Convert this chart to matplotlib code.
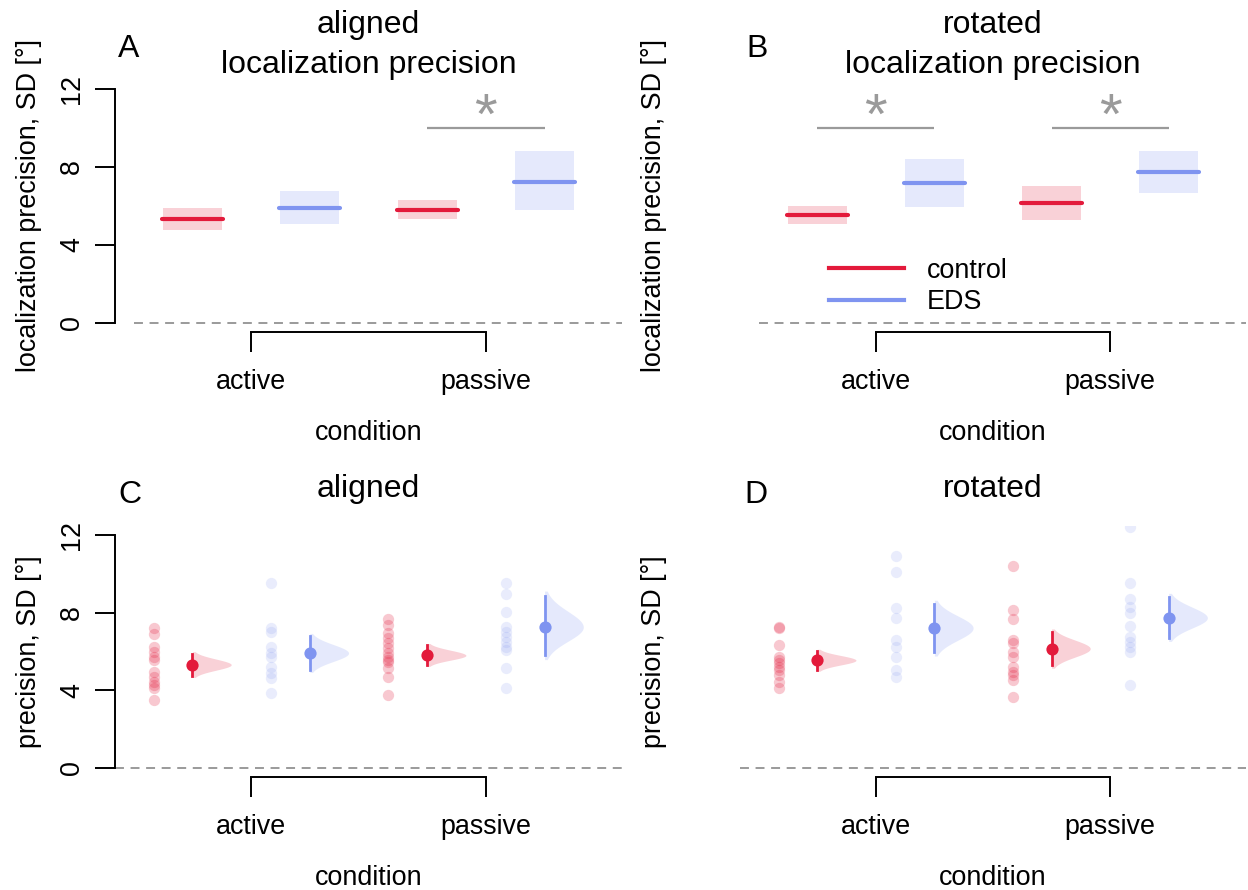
import numpy as np
import matplotlib
matplotlib.use("Agg")
import matplotlib.pyplot as plt

plt.rcParams['font.family'] = ['Liberation Sans', 'DejaVu Sans']

# ---------------------------------------------------------------- data
conditions = ['active', 'passive']
groups = ['control', 'EDS']
# cells in plotting order: active/control, active/EDS, passive/control, passive/EDS
cell_x = [1, 2, 3, 4]
cell_group = ['control', 'EDS', 'control', 'EDS']

aligned_mean = [5.31, 5.91, 5.79, 7.25]
aligned_ci_lo = [4.75, 5.06, 5.31, 5.82]
aligned_ci_hi = [5.88, 6.77, 6.31, 8.83]

rotated_mean = [5.54, 7.20, 6.14, 7.73]
rotated_ci_lo = [5.06, 5.97, 5.28, 6.69]
rotated_ci_hi = [6.02, 8.42, 7.00, 8.80]

aligned_active_control = [7.19, 6.88, 6.24, 5.98, 5.72, 5.55, 4.95, 4.69, 4.43, 4.26, 4.09, 3.49]
aligned_active_eds = [9.54, 7.19, 7.01, 6.24, 5.90, 5.72, 5.21, 4.87, 4.61, 3.84]
aligned_passive_control = [7.65, 7.36, 6.93, 6.67, 6.41, 6.15, 5.90, 5.72, 5.55, 5.46, 5.12, 4.69, 3.75]
aligned_passive_eds = [9.50, 8.94, 8.04, 7.27, 7.01, 6.75, 6.49, 6.24, 6.07, 5.12, 4.09]

rotated_active_control = [7.27, 7.19, 6.32, 5.72, 5.55, 5.38, 5.21, 5.04, 4.78, 4.43, 4.09]
rotated_active_eds = [10.91, 10.10, 8.22, 7.70, 6.58, 6.24, 5.72, 5.04, 4.69]
rotated_passive_control = [10.40, 8.13, 7.65, 6.58, 6.41, 5.98, 5.72, 5.21, 4.95, 4.78, 4.52, 3.66]
rotated_passive_eds = [12.42, 9.54, 8.68, 8.30, 7.96, 7.30, 6.75, 6.49, 6.24, 5.98, 4.26]

aligned_raw = [aligned_active_control, aligned_active_eds,
               aligned_passive_control, aligned_passive_eds]
rotated_raw = [rotated_active_control, rotated_active_eds,
               rotated_passive_control, rotated_passive_eds]

# significant control-vs-EDS comparisons: (left cell, right cell)
aligned_sig = [(3, 4)]
rotated_sig = [(1, 2), (3, 4)]

y_ticks = [0, 4, 8, 12]

# ---------------------------------------------------------------- style
W, H = 1248, 890
BASE = 19.4
TITLE = 23
COLORS = {'control': '#e31a3b', 'EDS': '#7f94f0'}
GREY = '#9a9a9a'

fig = plt.figure(figsize=(W / 100, H / 100), dpi=100)


def px_axes(left, top, right, bottom):
    return fig.add_axes([left / W, 1 - bottom / H, (right - left) / W, (bottom - top) / H])


def fig_text(x, y, s, **kw):
    fig.text(x / W, 1 - y / H, s, **kw)


def setup(ax, show_y):
    ax.set_xlim(0.34, 4.66)
    ax.set_ylim(-0.48, 12.48)
    for side in ['top', 'right']:
        ax.spines[side].set_visible(False)
    ax.spines['bottom'].set_bounds(1.5, 3.5)
    ax.spines['bottom'].set_linewidth(1.4)
    ax.set_xticks([1.5, 3.5])
    ax.set_xticklabels(conditions, fontsize=BASE)
    ax.tick_params(axis='x', length=14.4, width=1.4, pad=12)
    if show_y:
        ax.spines['left'].set_bounds(0, 12)
        ax.spines['left'].set_linewidth(1.4)
        ax.set_yticks(y_ticks)
        ax.set_yticklabels([str(t) for t in y_ticks], fontsize=BASE,
                           rotation=90, va='center')
        ax.tick_params(axis='y', length=14.4, width=1.4, pad=7)
    else:
        ax.spines['left'].set_visible(False)
        ax.set_yticks([])


def significance(ax, pairs):
    for a, b in pairs:
        ax.plot([a, b], [10, 10], color=GREY, lw=1.6, solid_capstyle='butt')
        ax.text((a + b) / 2, 9.72, '*', color=GREY, fontsize=42,
                ha='center', va='baseline')


def summary_panel(ax, means, lo, hi, sig):
    ax.plot([0.5, 5], [0, 0], color=GREY, lw=1.4, dashes=(4.6, 3.4))
    for x, g, m, l, h in zip(cell_x, cell_group, means, lo, hi):
        c = COLORS[g]
        ax.fill_between([x - 0.25, x + 0.25], l, h, color=c, alpha=0.2, lw=0)
        ax.plot([x - 0.26, x + 0.26], [m, m], color=c, lw=3.0,
                solid_capstyle='round')
    significance(ax, sig)


def distribution_panel(ax, raw, means, lo, hi):
    ax.axhline(0, color=GREY, lw=1.4, dashes=(4.6, 3.4))
    for x, g, vals, m, l, h in zip(cell_x, cell_group, raw, means, lo, hi):
        c = COLORS[g]
        a = 0.24 if g == 'control' else 0.17
        ax.scatter(np.full(len(vals), x - 0.33), vals, s=66, color=c,
                   alpha=a, lw=0, zorder=2)
        # half violin of the mean estimate, skewed by the interval
        sd_up = (h - m) / 1.96
        sd_dn = (m - l) / 1.96
        yy = np.linspace(m - 2.3 * sd_dn, m + 2.3 * sd_up, 200)
        z = np.where(yy >= m, (yy - m) / sd_up, (yy - m) / sd_dn)
        width = 0.33 * np.exp(-0.5 * z ** 2)
        ax.fill_betweenx(yy, x, x + width, color=c, alpha=0.2, lw=0, zorder=2)
        ax.plot([x, x], [l, h], color=c, lw=2.0, zorder=3)
        ax.plot([x], [m], 'o', color=c, ms=8.8, mec='none', zorder=4)


# ---------------------------------------------------------------- panels
LEFT_L, LEFT_R = 115, 622
RIGHT_L, RIGHT_R = 740, 1246
TOP_T, TOP_B = 79.6, 332.4
BOT_T, BOT_B = 525.6, 777.0

axA = px_axes(LEFT_L, TOP_T, LEFT_R, TOP_B)
axB = px_axes(RIGHT_L, TOP_T, RIGHT_R, TOP_B)
axC = px_axes(LEFT_L, BOT_T, LEFT_R, BOT_B)
axD = px_axes(RIGHT_L, BOT_T, RIGHT_R, BOT_B)

setup(axA, True)
setup(axB, False)
setup(axC, True)
setup(axD, False)

summary_panel(axA, aligned_mean, aligned_ci_lo, aligned_ci_hi, aligned_sig)
summary_panel(axB, rotated_mean, rotated_ci_lo, rotated_ci_hi, rotated_sig)
distribution_panel(axC, aligned_raw, aligned_mean, aligned_ci_lo, aligned_ci_hi)
distribution_panel(axD, rotated_raw, rotated_mean, rotated_ci_lo, rotated_ci_hi)

# legend in panel B
for g in groups:
    axB.plot([], [], color=COLORS[g], lw=3.0, label=g)
axB.legend(loc='upper left', bbox_to_anchor=(0.175, 0.296), frameon=False,
           fontsize=BASE, handlelength=2.8, handletextpad=0.85,
           labelspacing=0.22, borderpad=0, borderaxespad=0)

# titles
fig_text((LEFT_L + LEFT_R) / 2, 33, 'aligned', fontsize=TITLE, ha='center', va='baseline')
fig_text((LEFT_L + LEFT_R) / 2, 72.5, 'localization precision', fontsize=TITLE,
         ha='center', va='baseline')
fig_text((RIGHT_L + RIGHT_R) / 2, 33, 'rotated', fontsize=TITLE, ha='center', va='baseline')
fig_text((RIGHT_L + RIGHT_R) / 2, 72.5, 'localization precision', fontsize=TITLE,
         ha='center', va='baseline')
fig_text((LEFT_L + LEFT_R) / 2, 497, 'aligned', fontsize=TITLE, ha='center', va='baseline')
fig_text((RIGHT_L + RIGHT_R) / 2, 497, 'rotated', fontsize=TITLE, ha='center', va='baseline')

# panel letters
fig_text(118, 57, 'A', fontsize=TITLE, ha='left', va='baseline')
fig_text(746, 57, 'B', fontsize=TITLE, ha='left', va='baseline')
fig_text(118, 503, 'C', fontsize=TITLE, ha='left', va='baseline')
fig_text(744, 503, 'D', fontsize=TITLE, ha='left', va='baseline')

# axis titles
for x0, x1 in [(LEFT_L, LEFT_R), (RIGHT_L, RIGHT_R)]:
    fig_text((x0 + x1) / 2, TOP_B + 108, 'condition', fontsize=BASE, ha='center', va='baseline')
    fig_text((x0 + x1) / 2, BOT_B + 108, 'condition', fontsize=BASE, ha='center', va='baseline')
for xc in [29, 654]:
    fig_text(xc, (TOP_T + TOP_B) / 2, 'localization precision, SD [°]', fontsize=BASE,
             rotation=90, ha='center', va='center')
    fig_text(xc, (BOT_T + BOT_B) / 2, 'precision, SD [°]', fontsize=BASE,
             rotation=90, ha='center', va='center')

fig.savefig('out.png', dpi=100, facecolor='white')
